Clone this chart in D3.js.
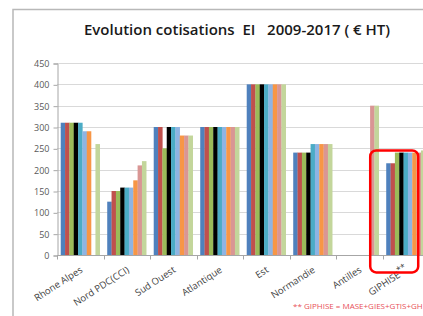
<!DOCTYPE html>
<html>
<head>
<meta charset="utf-8">
<script src="https://cdn.jsdelivr.net/npm/d3@7"></script>
<style>
  html, body { margin: 0; padding: 0; background: #fff; }
  svg { display: block; font-family: "Open Sans", "Noto Sans", sans-serif; }
</style>
</head>
<body>
<svg id="chart" width="423" height="316"></svg>
<script>
// regions on the x axis
const regions = ['Rhone Alpes', 'Nord PDC(CCI)', 'Sud Ouest', 'Atlantique', 'Est', 'Normandie', 'Antilles', 'GIPHISE'];
// one series per year
const years = ['2009', '2010', '2011', '2012', '2013', '2014', '2015', '2016', '2017'];
const yearColors = ['#4F81BD', '#C0504D', '#9BBB59', '#000000', '#4BACC6', '#8EB4E3', '#F79646', '#D99694', '#C3D69B'];

// values per region, 2009 -> 2017 (null = no bar)
const rhoneAlpes = [310, 310, 310, 310, 310, 290, 290, null, 260];
const nordPdc    = [125, 150, 150, 158, 158, 158, 175, 210, 220];
const sudOuest   = [300, 300, 250, 300, 300, 300, 280, 280, 280];
const atlantique = [300, 300, 300, 300, 300, 300, 300, 300, 300];
const est        = [400, 400, 400, 400, 400, 400, 400, 400, 400];
const normandie  = [240, 240, 240, 240, 260, 260, 260, 260, 260];
const antilles   = [null, null, null, null, null, null, null, 350, 350];
const giphise    = [215, 215, 240, 240, 240, 240, 240, 240, 245];

const yTicks = [0, 50, 100, 150, 200, 250, 300, 350, 400, 450];
const titleText = 'Evolution cotisations  EI   2009-2017 ( \u20AC HT)';
const noteText = '** GIPHISE = MASE+GIES+GTIS+GH';

const values = [rhoneAlpes, nordPdc, sudOuest, atlantique, est, normandie, antilles, giphise];

/**
 * plot area of the chart inside the svg
 */
const plot = { left: 57, right: 429, top: 63, bottom: 255 };

const svg = d3.select('#chart');

// slide frame
svg.append('path')
    .attr('d', 'M13,316 L13,9.5 L423,9.5')
    .attr('fill', 'none')
    .attr('stroke', '#b8b8b8')
    .attr('stroke-width', 1.5);

svg.append('text')
    .attr('x', 237)
    .attr('y', 35)
    .attr('text-anchor', 'middle')
    .style('font-size', '15px')
    .style('font-weight', 600)
    .style('fill', '#1a1a1a')
    .attr('xml:space', 'preserve')
    .text(titleText);

const xScale = d3.scaleBand()
    .domain(regions)
    .range([plot.left, plot.right])
    .paddingInner(0.16)
    .paddingOuter(0.08);

const xInner = d3.scaleBand()
    .domain(years)
    .range([0, xScale.bandwidth()]);

const yScale = d3.scaleLinear()
    .domain([0, 450])
    .range([plot.bottom, plot.top]);

// gridlines
svg.append('g')
    .selectAll('line')
    .data(yTicks.filter(d => d > 0))
    .enter()
    .append('line')
    .attr('x1', plot.left)
    .attr('x2', plot.right)
    .attr('y1', d => Math.round(yScale(d)) + 0.5)
    .attr('y2', d => Math.round(yScale(d)) + 0.5)
    .attr('stroke', '#d9d9d9')
    .attr('stroke-width', 1);

// bars
svg.append('g')
    .selectAll('g')
    .data(regions)
    .enter()
    .append('g')
    .attr('transform', d => 'translate(' + xScale(d) + ',0)')
    .selectAll('rect')
    .data((d, i) => values[i].map((v, j) => ({ year: years[j], value: v })).filter(e => e.value !== null))
    .enter()
    .append('rect')
    .attr('x', d => xInner(d.year))
    .attr('width', xInner.bandwidth() + 0.2)
    .attr('y', d => yScale(d.value))
    .attr('height', d => yScale(0) - yScale(d.value))
    .attr('fill', (d) => yearColors[years.indexOf(d.year)]);

// y axis
const yAxis = d3.axisLeft(yScale).tickValues(yTicks).tickSize(4).tickPadding(4);
const yG = svg.append('g')
    .attr('transform', 'translate(' + (plot.left + 0.5) + ',0.5)')
    .call(yAxis);
yG.select('.domain').attr('stroke', '#a6a6a6');
yG.selectAll('.tick line').attr('stroke', '#a6a6a6');
yG.selectAll('.tick text')
    .style('font-size', '9px')
    .style('fill', '#595959')
    .style('font-family', '"Open Sans", sans-serif');

// x axis, ticks between categories
const step = xScale.step();
const xG = svg.append('g').attr('transform', 'translate(0,' + (plot.bottom + 0.5) + ')');
xG.append('line')
    .attr('x1', plot.left)
    .attr('x2', plot.right)
    .attr('stroke', '#a6a6a6');
xG.selectAll('.sep')
    .data(d3.range(regions.length + 1))
    .enter()
    .append('line')
    .attr('class', 'sep')
    .attr('x1', i => Math.round(plot.left + i * step) + 0.5)
    .attr('x2', i => Math.round(plot.left + i * step) + 0.5)
    .attr('y1', 0)
    .attr('y2', 4)
    .attr('stroke', '#a6a6a6');

xG.selectAll('.lab')
    .data(regions)
    .enter()
    .append('text')
    .attr('class', 'lab')
    .attr('text-anchor', 'end')
    .attr('transform', d => 'translate(' + (xScale(d) + xScale.bandwidth() / 2 + 3) + ',16) rotate(-33)')
    .style('font-size', '9.5px')
    .style('fill', '#404040')
    .text(d => d)
    .filter(d => d === 'GIPHISE')
    .append('tspan')
    .attr('dy', -4)
    .style('font-size', '8.5px')
    .text('**');

// highlight box round GIPHISE
svg.append('rect')
    .attr('x', xScale('GIPHISE') - 16)
    .attr('y', yScale(245))
    .attr('width', 48)
    .attr('height', 122)
    .attr('rx', 6)
    .attr('fill', 'none')
    .attr('stroke', '#ff0000')
    .attr('stroke-width', 2.5);

svg.append('text')
    .attr('x', 293)
    .attr('y', 309)
    .style('font-size', '8px')
    .style('fill', '#e85058')
    .text(noteText);
</script>
</body>
</html>
